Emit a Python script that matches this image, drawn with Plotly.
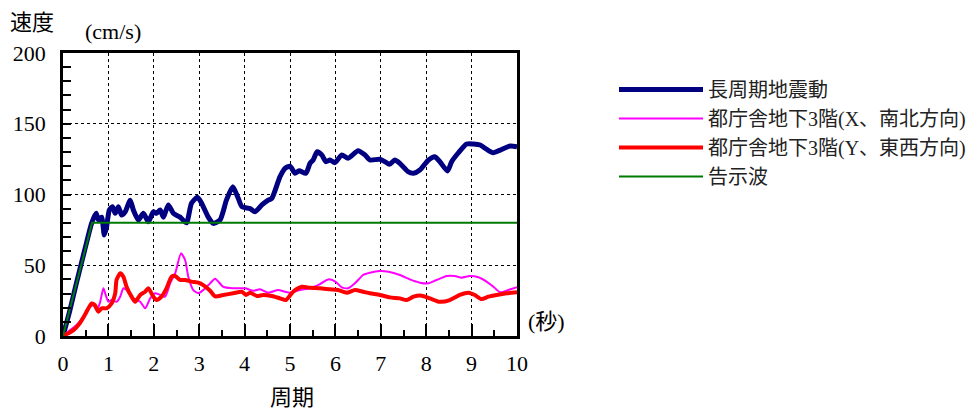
import plotly.graph_objects as go

# Velocity response spectra (cm/s) against period (s)
long_period_x = [0, 0.15, 0.3, 0.48, 0.63, 0.73, 0.78, 0.85, 0.91, 0.96, 1.02, 1.09, 1.15, 1.22, 1.29, 1.37,
                 1.48, 1.55, 1.66, 1.77, 1.88, 1.99, 2.06, 2.14, 2.21, 2.32, 2.43, 2.58, 2.72, 2.83, 2.96,
                 3.05, 3.2, 3.31, 3.46, 3.6, 3.74, 3.86, 3.94, 4.12, 4.23, 4.38, 4.52, 4.6, 4.78, 4.89,
                 5.0, 5.11, 5.2, 5.35, 5.44, 5.51, 5.6, 5.7, 5.79, 5.88, 5.99, 6.14, 6.28, 6.5, 6.65,
                 6.76, 6.98, 7.09, 7.19, 7.31, 7.42, 7.6, 7.72, 7.86, 8.05, 8.19, 8.3, 8.47, 8.56, 8.71,
                 8.89, 9.04, 9.19, 9.33, 9.48, 9.63, 9.85, 10.0]
long_period_v = [0, 18, 38, 61, 79.6, 86.7, 82, 84, 71.4, 77, 89, 91.4, 86.7, 91.4, 85.5, 87.8,
                 96, 89, 82, 86.7, 80.8, 87.8, 86.7, 89, 84, 92.6, 86.7, 84, 80, 93.8, 98,
                 94, 84, 79.6, 82, 96, 105.5, 97.3, 91.4, 90, 87.8, 92.6, 96, 97.3, 112.6, 118.5,
                 120, 115, 116.8, 115, 122, 124.4, 130.2, 128, 123.2, 124.4, 122.5, 128, 125.6, 131, 128,
                 124.4, 124.9, 123.2, 121.3, 124.4, 122, 116.1, 115, 117.3, 124.4, 126.7, 123.2, 116.6, 123.2, 129.5,
                 135.7, 135.7, 135, 132, 129.5, 131.4, 134.3, 133.8]

ns_x = [0, 0.15, 0.3, 0.45, 0.56, 0.67, 0.74, 0.81, 0.89, 0.94, 1.0, 1.07, 1.18, 1.26, 1.33, 1.4,
        1.51, 1.62, 1.7, 1.81, 1.92, 2.03, 2.14, 2.25, 2.36, 2.47, 2.6, 2.69, 2.76, 2.87, 2.98,
        3.09, 3.24, 3.35, 3.53, 3.75, 4.01, 4.19, 4.34, 4.52, 4.74, 4.89, 5.0, 5.22, 5.44, 5.66,
        5.84, 6.0, 6.14, 6.28, 6.43, 6.61, 6.76, 6.98, 7.17, 7.42, 7.64, 7.86, 8.05, 8.23, 8.45,
        8.63, 8.78, 8.96, 9.15, 9.33, 9.48, 9.63, 9.81, 10.0]
ns_v = [0, 4, 7.8, 13.7, 19.6, 21.9, 18.4, 23, 33.7, 29, 24.2, 25.4, 24.2, 27.8, 33.7, 32.5,
        27.8, 25.4, 24.2, 19.6, 26.6, 30.2, 29, 27.8, 37.2, 44.3, 58.4, 53.7, 41.9, 32.5, 30.2,
        32.5, 37.2, 40.5, 34.8, 33.7, 33.7, 32, 33, 30.6, 32.5, 31.3, 30.6, 32.5, 33.7, 36.7,
        40, 38.4, 34.4, 33.7, 37.2, 43.1, 44.7, 45.9, 45.4, 43.1, 40, 37.7, 37.2, 39.6, 42.4,
        42.4, 41.2, 42.4, 41.5, 38.4, 34.8, 30.9, 32.5, 34.4]

ew_x = [0, 0.23, 0.37, 0.48, 0.56, 0.63, 0.7, 0.78, 0.85, 0.96, 1.07, 1.15, 1.18, 1.26, 1.33, 1.4,
        1.51, 1.59, 1.7, 1.81, 1.88, 1.99, 2.06, 2.17, 2.28, 2.39, 2.47, 2.58, 2.69, 2.83, 2.98,
        3.09, 3.24, 3.35, 3.53, 3.75, 3.94, 4.03, 4.12, 4.27, 4.41, 4.6, 4.78, 4.91, 5.07, 5.26,
        5.44, 5.66, 5.88, 6.06, 6.25, 6.43, 6.61, 6.76, 6.98, 7.2, 7.42, 7.57, 7.72, 7.9, 8.08,
        8.3, 8.52, 8.74, 8.93, 9.07, 9.22, 9.37, 9.55, 9.77, 10.0]
ew_v = [0, 4.2, 9, 14.8, 19.6, 23, 21.9, 17.2, 19.6, 19.6, 23, 30.2, 39.6, 44.3, 41.9, 34.8,
        27.8, 24.2, 29, 31.3, 33.7, 27.8, 25.4, 27.8, 33.7, 41.9, 42.4, 39.6, 39.6, 38.4, 37.7,
        36, 32, 28, 29, 30.2, 31.3, 29, 30.6, 28.3, 29, 28.3, 26.6, 25.4, 31.3, 34.8,
        34.1, 33.7, 33, 32.5, 30.6, 32.5, 31.3, 30.2, 29, 27.3, 26.6, 25.4, 27.8, 28.5, 26.6,
        24.2, 25.4, 29, 30.6, 29, 26.1, 27.8, 29, 30.2, 30.9]

notice_x = [0, 0.64, 10]
notice_v = [0, 80, 80]

names = ["長周期地震動", "都庁舎地下3階(X、南北方向)", "都庁舎地下3階(Y、東西方向)", "告示波"]

FONT = "Liberation Serif, Times New Roman, Noto Sans CJK JP, serif"

fig = go.Figure()
fig.add_trace(go.Scatter(x=long_period_x, y=long_period_v, name=names[0], mode="lines",
                         line=dict(color="#000080", width=5, shape="spline", smoothing=0.6)))
fig.add_trace(go.Scatter(x=ns_x, y=ns_v, name=names[1], mode="lines",
                         line=dict(color="#FF00FF", width=2, shape="spline", smoothing=0.6)))
fig.add_trace(go.Scatter(x=ew_x, y=ew_v, name=names[2], mode="lines",
                         line=dict(color="#FF0000", width=4, shape="spline", smoothing=0.6)))
fig.add_trace(go.Scatter(x=notice_x, y=notice_v, name=names[3], mode="lines",
                         line=dict(color="#007A00", width=2)))

axis_common = dict(
    showline=True, linecolor="black", linewidth=2.5, mirror=True,
    showgrid=True, gridcolor="black", gridwidth=1, griddash="dot",
    zeroline=False, ticks="inside", tickcolor="black",
    tickfont=dict(family=FONT, size=22, color="black"),
)

fig.update_xaxes(range=[0, 10], dtick=1, ticklen=12, tickwidth=2,
                 minor=dict(dtick=0.5, ticklen=6, tickwidth=2, ticks="inside", showgrid=False, tickcolor="black"),
                 ticklabelstandoff=6, **axis_common)
fig.update_yaxes(range=[0, 200], dtick=50, ticklen=8, tickwidth=2,
                 minor=dict(dtick=10, ticklen=8, tickwidth=2, ticks="inside", showgrid=False, tickcolor="black"),
                 ticklabelstandoff=10, **axis_common)

x0_px, x1_px, y0_px, y1_px = 63, 517, 53, 336


def px_to_paper(px, py):
    return (px - x0_px) / (x1_px - x0_px), (y1_px - py) / (y1_px - y0_px)


labels = [("速度", 32, 23), ("(cm/s)", 113, 32), ("(秒)", 546, 321), ("周期", 292, 397)]
annotations = []
for text, px, py in labels:
    ax, ay = px_to_paper(px, py)
    annotations.append(dict(text=text, x=ax, y=ay, xref="paper", yref="paper",
                            showarrow=False, xanchor="center", yanchor="middle",
                            font=dict(family=FONT, size=22, color="black")))

lx, ly = px_to_paper(614, 70)
fig.update_layout(
    width=980, height=410,
    margin=dict(l=x0_px, r=980 - x1_px, t=y0_px, b=410 - y1_px, autoexpand=False),
    paper_bgcolor="white", plot_bgcolor="white",
    font=dict(family=FONT, size=20, color="black"),
    annotations=annotations,
    legend=dict(x=lx, y=ly, xanchor="left", yanchor="top", itemwidth=84,
                font=dict(family=FONT, size=20, color="#222222"),
                bgcolor="rgba(0,0,0,0)", tracegroupgap=0),
    showlegend=True,
)

fig.write_html("out.html")
